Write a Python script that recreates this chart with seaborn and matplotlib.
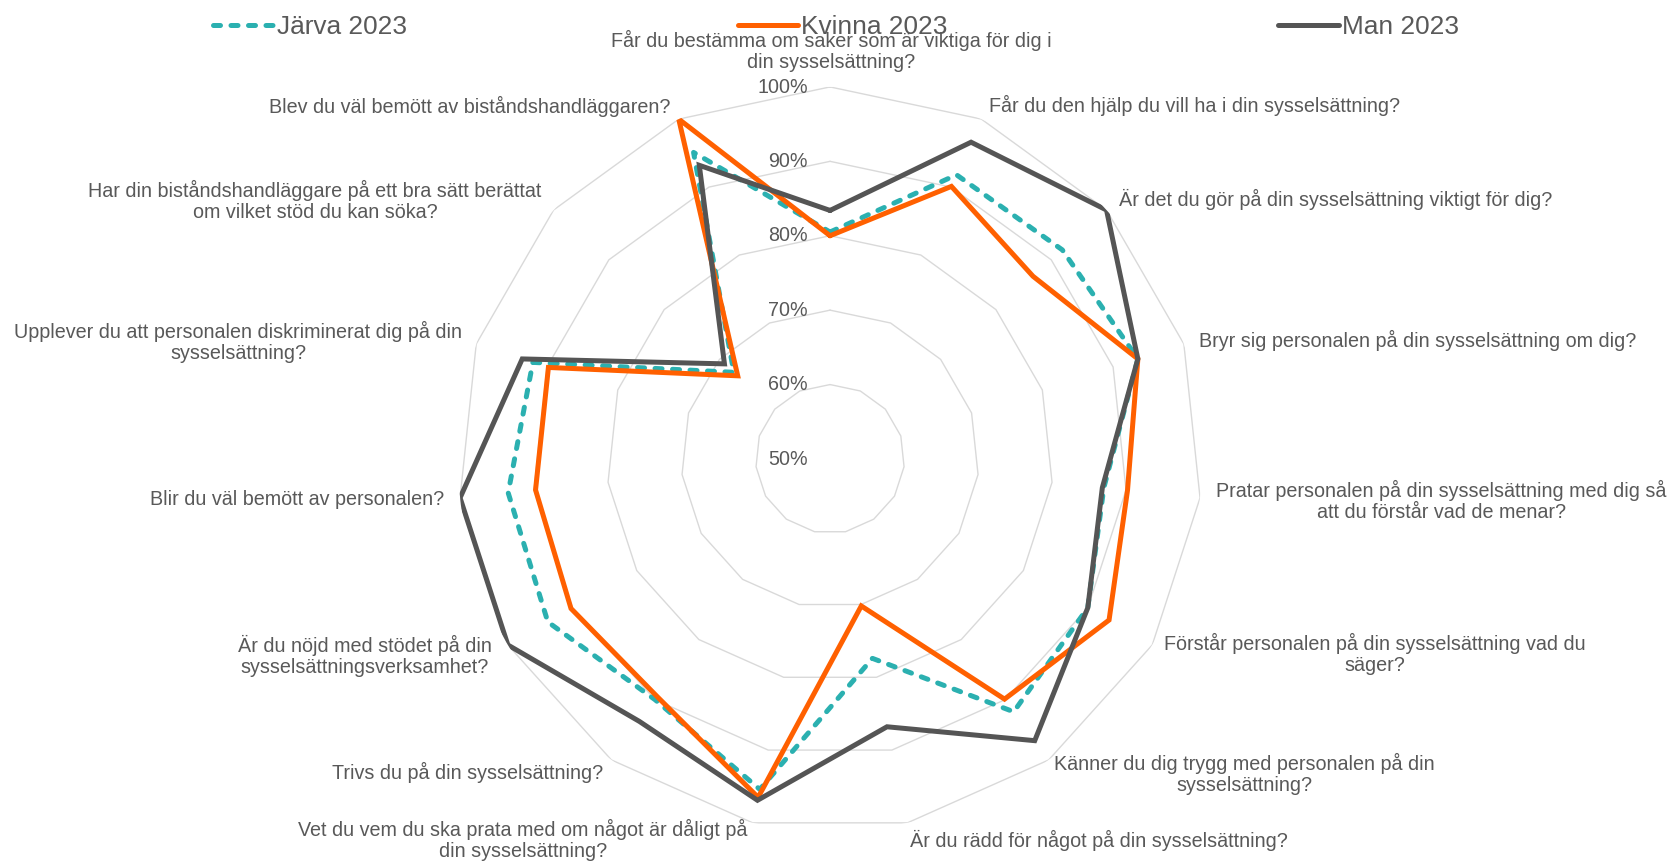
import numpy as np
import pandas as pd
import matplotlib
matplotlib.use("Agg")
import matplotlib.pyplot as plt
import matplotlib.transforms as mtransforms
import seaborn as sns

categories = [
    "Får du bestämma om saker som är viktiga för dig i\ndin sysselsättning?",
    "Får du den hjälp du vill ha i din sysselsättning?",
    "Är det du gör på din sysselsättning viktigt för dig?",
    "Bryr sig personalen på din sysselsättning om dig?",
    "Pratar personalen på din sysselsättning med dig så\natt du förstår vad de menar?",
    "Förstår personalen på din sysselsättning vad du\nsäger?",
    "Känner du dig trygg med personalen på din\nsysselsättning?",
    "Är du rädd för något på din sysselsättning?",
    "Vet du vem du ska prata med om något är dåligt på\ndin sysselsättning?",
    "Trivs du på din sysselsättning?",
    "Är du nöjd med stödet på din\nsysselsättningsverksamhet?",
    "Blir du väl bemött av personalen?",
    "Upplever du att personalen diskriminerat dig på din\nsysselsättning?",
    "Har din biståndshandläggare på ett bra sätt berättat\nom vilket stöd du kan söka?",
    "Blev du väl bemött av biståndshandläggaren?",
]

jarva_2023 = [0.805, 0.918, 0.920, 0.935, 0.870, 0.900, 0.920, 0.774, 0.954, 0.900, 0.938, 0.935, 0.920, 0.674, 0.951]
kvinna_2023 = [0.800, 0.901, 0.867, 0.935, 0.902, 0.933, 0.899, 0.702, 0.965, 0.895, 0.902, 0.898, 0.898, 0.667, 1.000]
man_2023 = [0.834, 0.966, 1.000, 0.935, 0.868, 0.900, 0.968, 0.868, 0.969, 0.936, 1.000, 1.000, 0.935, 0.691, 0.932]

series_names = ["Järva 2023", "Kvinna 2023", "Man 2023"]
tick_values = [0.5, 0.6, 0.7, 0.8, 0.9, 1.0]
tick_labels = ["50%", "60%", "70%", "80%", "90%", "100%"]

colors = ["#2BB0B0", "#FF6000", "#555555"]
text_color = "#595959"

sns.set_theme(style="white")
plt.rcParams["font.family"] = ["Liberation Sans", "DejaVu Sans"]

W, H = 1667, 862
fig = plt.figure(figsize=(W / 100 + 0.001, H / 100 + 0.001), dpi=100)

cx, cy, rad = 830, 459, 372
ax = fig.add_axes([(cx - rad) / W, (H - cy - rad) / H, 2 * rad / W, 2 * rad / H], projection="polar")
ax.set_theta_zero_location("N")
ax.set_theta_direction(-1)

n = len(categories)
theta = np.linspace(0, 2 * np.pi, n, endpoint=False)
theta_closed = np.append(theta, 2 * np.pi)

# polygon grid
for v in tick_values[1:]:
    ax.plot(theta_closed, [v] * (n + 1), color="#D9D9D9", lw=1.0, zorder=1)

series = [jarva_2023, kvinna_2023, man_2023]
styles = [dict(linestyle=(0, (1.4, 2.1)), dash_capstyle="round"), dict(linestyle="-"), dict(linestyle="-")]
handles = []
for name, vals, col, st in zip(series_names, series, colors, styles):
    df = pd.DataFrame({"theta": theta_closed, "value": list(vals) + [vals[0]]})
    sns.lineplot(data=df, x="theta", y="value", ax=ax, sort=False, estimator=None,
                 color=col, lw=3.6, legend=False, zorder=3, **st)
    line = ax.lines[-1]
    line.set_label(name)
    line.set_solid_joinstyle("miter")
    handles.append(line)

ax.set_ylim(0.5, 1.0)
ax.grid(False)
ax.spines["polar"].set_visible(False)
ax.set_xticks([])
ax.set_yticks([])
ax.set_xlabel("")
ax.set_ylabel("")
ax.set_facecolor("none")

off = mtransforms.offset_copy(ax.transData, fig=fig, x=-22, y=0, units="dots")
for v, lab in zip(tick_values, tick_labels):
    ax.text(0, v, lab, transform=off, ha="right", va="center", fontsize=14.2, color=text_color, zorder=5)

# category label placement (pixels): x, y, horizontal alignment
label_pos = [
    (831, 51, "center"), (989, 105, "left"), (1119, 199, "left"), (1199, 340, "left"),
    (1441, 501, "center"), (1375, 654, "center"), (1244, 774, "center"), (1099, 840, "center"),
    (523, 840, "center"), (603, 772, "right"), (365, 656, "center"), (444, 499, "right"),
    (238, 342, "center"), (315, 201, "center"), (670, 106, "right"),
]
for text, (px, py, ha) in zip(categories, label_pos):
    fig.text(px / W, 1 - py / H, text, ha=ha, va="center", multialignment="center",
             fontsize=14.2, color=text_color, linespacing=1.1)

fig.legend(handles=handles, labels=series_names, loc="center", bbox_to_anchor=(836 / W, 1 - 27 / H),
           ncol=3, frameon=False, fontsize=18.9, handlelength=2.3, handletextpad=0.12,
           columnspacing=12.6, labelcolor=text_color)

fig.savefig("out.png", dpi=100)
